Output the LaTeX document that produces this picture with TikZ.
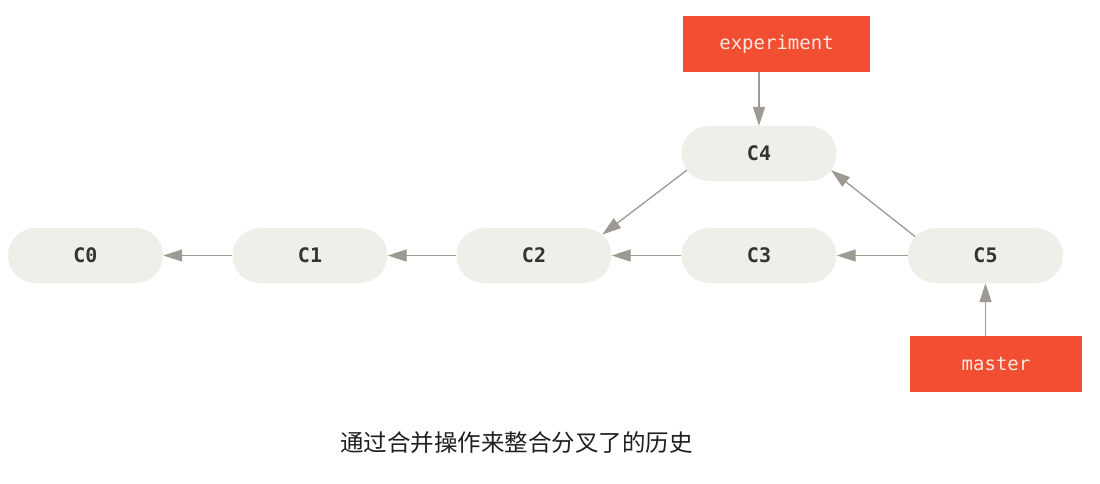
\documentclass[tikz,border=0pt]{standalone}
\usepackage{fontspec}
\setmonofont{DejaVu Sans Mono}
\newfontfamily\cjk{Noto Sans CJK SC}
\usetikzlibrary{shapes.misc,arrows.meta}

\definecolor{commitfill}{HTML}{EFEEE8}
\definecolor{committext}{HTML}{333333}
\definecolor{refred}{HTML}{F14E32}
\definecolor{reftext}{HTML}{F6E8DE}
\definecolor{linkgrey}{HTML}{9D9993}

\tikzset{
  commit/.style={rounded rectangle, fill=commitfill, text=committext,
    minimum width=155pt, minimum height=55pt, inner sep=0pt,
    font=\ttfamily\bfseries\fontsize{20}{20}\selectfont},
  branchref/.style={rectangle, fill=refred, text=reftext, inner sep=0pt,
    minimum height=56pt, font=\ttfamily\fontsize{19}{19}\selectfont},
  link/.style={draw=linkgrey, line width=1.3pt,
    -{Triangle[length=19pt,width=12pt,fill=linkgrey]}},
}

\begin{document}
\begin{tikzpicture}[x=1pt,y=-1pt]
  \useasboundingbox[fill=white] (0,0) rectangle (1100,484);

  % commits
  \node[commit] (C0) at (85.5,255.5) {C0};
  \node[commit] (C1) at (310,255.5) {C1};
  \node[commit] (C2) at (534,255.5) {C2};
  \node[commit] (C3) at (759,255.5) {C3};
  \node[commit] (C4) at (759,153.5) {C4};
  \node[commit] (C5) at (985.5,255.5) {C5};

  % branch pointers
  \node[branchref, minimum width=187pt] (exp) at (776.5,44) {experiment};
  \node[branchref, minimum width=172pt] (mst) at (996,364) {master};

  % parent links
  \draw[link] (C1.west) -- (C0.east);
  \draw[link] (C2.west) -- (C1.east);
  \draw[link] (C3.west) -- (C2.east);
  \draw[link] (C5.west) -- (C3.east);
  \draw[link] (C4.193.5) -- (C2.17);
  \draw[link] (C5.165.7) -- (C4.347.5);
  \draw[link] (exp.south -| C4.north) -- (C4.north);
  \draw[link] (mst.north -| C5.south) -- (C5.south);

  % caption
  \node[text=black!88, font=\cjk\fontsize{23.5}{23.5}\selectfont] (cap) at (516.5,443)
    {通过合并操作来整合分叉了的历史};
\end{tikzpicture}
\end{document}
